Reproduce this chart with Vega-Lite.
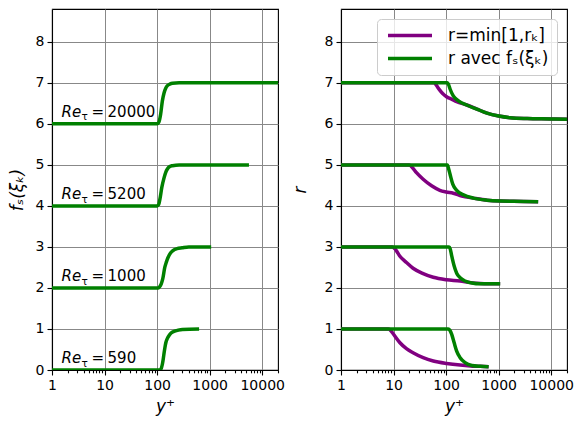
{
  "$schema": "https://vega.github.io/schema/vega-lite/v6.json",
  "background": "white",
  "padding": {"left": 7, "top": 8, "right": 2, "bottom": 4},
  "config": {
    "font": "DejaVu Sans",
    "view": {"stroke": "black", "strokeWidth": 1.1},
    "axis": {
      "domainColor": "black", "domainWidth": 1.1,
      "tickColor": "black", "tickWidth": 1.1,
      "labelColor": "black", "titleColor": "black",
      "labelFont": "DejaVu Sans", "titleFont": "DejaVu Sans",
      "labelFontSize": 14, "titleFontSize": 17, "titleFontWeight": "normal",
      "gridColor": "#888888", "gridWidth": 1
    }
  },
  "datasets": {
    "fs": [
      {"re": "590", "x": 1, "y": 0}, {"re": "590", "x": 112, "y": 0}, {"re": "590", "x": 118, "y": 0.02}, {"re": "590", "x": 126, "y": 0.14}, {"re": "590", "x": 131, "y": 0.27}, {"re": "590", "x": 136, "y": 0.42}, {"re": "590", "x": 141, "y": 0.55}, {"re": "590", "x": 147, "y": 0.67}, {"re": "590", "x": 157, "y": 0.77}, {"re": "590", "x": 169, "y": 0.84}, {"re": "590", "x": 185, "y": 0.9}, {"re": "590", "x": 210, "y": 0.94}, {"re": "590", "x": 250, "y": 0.97}, {"re": "590", "x": 303, "y": 0.99}, {"re": "590", "x": 630, "y": 1.0},
      {"re": "1000", "x": 1, "y": 2}, {"re": "1000", "x": 105, "y": 2}, {"re": "1000", "x": 112, "y": 2.03}, {"re": "1000", "x": 120, "y": 2.1}, {"re": "1000", "x": 128, "y": 2.22}, {"re": "1000", "x": 140, "y": 2.5}, {"re": "1000", "x": 150, "y": 2.63}, {"re": "1000", "x": 160, "y": 2.73}, {"re": "1000", "x": 180, "y": 2.85}, {"re": "1000", "x": 200, "y": 2.91}, {"re": "1000", "x": 240, "y": 2.96}, {"re": "1000", "x": 300, "y": 2.98}, {"re": "1000", "x": 400, "y": 3}, {"re": "1000", "x": 1070, "y": 3},
      {"re": "5200", "x": 1, "y": 4}, {"re": "5200", "x": 100, "y": 4}, {"re": "5200", "x": 107, "y": 4.03}, {"re": "5200", "x": 113, "y": 4.16}, {"re": "5200", "x": 123, "y": 4.45}, {"re": "5200", "x": 136, "y": 4.69}, {"re": "5200", "x": 146, "y": 4.82}, {"re": "5200", "x": 157, "y": 4.9}, {"re": "5200", "x": 175, "y": 4.96}, {"re": "5200", "x": 196, "y": 4.98}, {"re": "5200", "x": 263, "y": 5}, {"re": "5200", "x": 5600, "y": 5},
      {"re": "20000", "x": 1, "y": 6}, {"re": "20000", "x": 100, "y": 6}, {"re": "20000", "x": 108, "y": 6.04}, {"re": "20000", "x": 117, "y": 6.24}, {"re": "20000", "x": 126, "y": 6.56}, {"re": "20000", "x": 136, "y": 6.76}, {"re": "20000", "x": 146, "y": 6.87}, {"re": "20000", "x": 157, "y": 6.93}, {"re": "20000", "x": 175, "y": 6.97}, {"re": "20000", "x": 196, "y": 6.99}, {"re": "20000", "x": 263, "y": 7}, {"re": "20000", "x": 20000, "y": 7}
    ],
    "labels": [
      {"re": "20000", "x": 1.52, "y": 6.17},
      {"re": "5200", "x": 1.52, "y": 4.16},
      {"re": "1000", "x": 1.52, "y": 2.16},
      {"re": "590", "x": 1.52, "y": 0.16}
    ],
    "r": [
      {"re": "590", "serie": "r=min[1,rₖ]", "x": 1, "y": 1}, {"re": "590", "serie": "r=min[1,rₖ]", "x": 8, "y": 1}, {"re": "590", "serie": "r=min[1,rₖ]", "x": 9, "y": 0.95}, {"re": "590", "serie": "r=min[1,rₖ]", "x": 10, "y": 0.87}, {"re": "590", "serie": "r=min[1,rₖ]", "x": 13.1, "y": 0.67}, {"re": "590", "serie": "r=min[1,rₖ]", "x": 17.6, "y": 0.52}, {"re": "590", "serie": "r=min[1,rₖ]", "x": 23.5, "y": 0.42}, {"re": "590", "serie": "r=min[1,rₖ]", "x": 36.6, "y": 0.3}, {"re": "590", "serie": "r=min[1,rₖ]", "x": 57, "y": 0.22}, {"re": "590", "serie": "r=min[1,rₖ]", "x": 102, "y": 0.16}, {"re": "590", "serie": "r=min[1,rₖ]", "x": 185, "y": 0.12}, {"re": "590", "serie": "r=min[1,rₖ]", "x": 290, "y": 0.1}, {"re": "590", "serie": "r=min[1,rₖ]", "x": 450, "y": 0.09}, {"re": "590", "serie": "r=min[1,rₖ]", "x": 645, "y": 0.08},
      {"re": "1000", "serie": "r=min[1,rₖ]", "x": 1, "y": 3}, {"re": "1000", "serie": "r=min[1,rₖ]", "x": 9.5, "y": 3}, {"re": "1000", "serie": "r=min[1,rₖ]", "x": 11, "y": 2.93}, {"re": "1000", "serie": "r=min[1,rₖ]", "x": 13.1, "y": 2.78}, {"re": "1000", "serie": "r=min[1,rₖ]", "x": 17.6, "y": 2.62}, {"re": "1000", "serie": "r=min[1,rₖ]", "x": 23.5, "y": 2.48}, {"re": "1000", "serie": "r=min[1,rₖ]", "x": 36.6, "y": 2.35}, {"re": "1000", "serie": "r=min[1,rₖ]", "x": 57, "y": 2.26}, {"re": "1000", "serie": "r=min[1,rₖ]", "x": 102, "y": 2.2}, {"re": "1000", "serie": "r=min[1,rₖ]", "x": 185, "y": 2.17}, {"re": "1000", "serie": "r=min[1,rₖ]", "x": 290, "y": 2.13}, {"re": "1000", "serie": "r=min[1,rₖ]", "x": 450, "y": 2.11}, {"re": "1000", "serie": "r=min[1,rₖ]", "x": 1070, "y": 2.1},
      {"re": "5200", "serie": "r=min[1,rₖ]", "x": 1, "y": 5}, {"re": "5200", "serie": "r=min[1,rₖ]", "x": 20, "y": 5}, {"re": "5200", "serie": "r=min[1,rₖ]", "x": 23, "y": 4.93}, {"re": "5200", "serie": "r=min[1,rₖ]", "x": 27.3, "y": 4.81}, {"re": "5200", "serie": "r=min[1,rₖ]", "x": 36.6, "y": 4.65}, {"re": "5200", "serie": "r=min[1,rₖ]", "x": 53, "y": 4.49}, {"re": "5200", "serie": "r=min[1,rₖ]", "x": 76, "y": 4.38}, {"re": "5200", "serie": "r=min[1,rₖ]", "x": 100, "y": 4.34}, {"re": "5200", "serie": "r=min[1,rₖ]", "x": 137, "y": 4.31}, {"re": "5200", "serie": "r=min[1,rₖ]", "x": 199, "y": 4.24}, {"re": "5200", "serie": "r=min[1,rₖ]", "x": 331, "y": 4.19}, {"re": "5200", "serie": "r=min[1,rₖ]", "x": 600, "y": 4.14}, {"re": "5200", "serie": "r=min[1,rₖ]", "x": 1070, "y": 4.12}, {"re": "5200", "serie": "r=min[1,rₖ]", "x": 3000, "y": 4.11}, {"re": "5200", "serie": "r=min[1,rₖ]", "x": 5650, "y": 4.1},
      {"re": "20000", "serie": "r=min[1,rₖ]", "x": 1, "y": 7}, {"re": "20000", "serie": "r=min[1,rₖ]", "x": 59, "y": 7}, {"re": "20000", "serie": "r=min[1,rₖ]", "x": 71, "y": 6.87}, {"re": "20000", "serie": "r=min[1,rₖ]", "x": 86, "y": 6.74}, {"re": "20000", "serie": "r=min[1,rₖ]", "x": 102, "y": 6.66}, {"re": "20000", "serie": "r=min[1,rₖ]", "x": 128, "y": 6.6}, {"re": "20000", "serie": "r=min[1,rₖ]", "x": 159, "y": 6.54}, {"re": "20000", "serie": "r=min[1,rₖ]", "x": 247, "y": 6.46}, {"re": "20000", "serie": "r=min[1,rₖ]", "x": 385, "y": 6.36}, {"re": "20000", "serie": "r=min[1,rₖ]", "x": 600, "y": 6.26}, {"re": "20000", "serie": "r=min[1,rₖ]", "x": 1000, "y": 6.19}, {"re": "20000", "serie": "r=min[1,rₖ]", "x": 1670, "y": 6.15}, {"re": "20000", "serie": "r=min[1,rₖ]", "x": 3480, "y": 6.13}, {"re": "20000", "serie": "r=min[1,rₖ]", "x": 10000, "y": 6.12}, {"re": "20000", "serie": "r=min[1,rₖ]", "x": 20000, "y": 6.11},
      {"re": "590", "serie": "r avec fₛ(ξₖ)", "x": 1, "y": 1}, {"re": "590", "serie": "r avec fₛ(ξₖ)", "x": 110, "y": 1}, {"re": "590", "serie": "r avec fₛ(ξₖ)", "x": 118, "y": 0.97}, {"re": "590", "serie": "r avec fₛ(ξₖ)", "x": 128, "y": 0.87}, {"re": "590", "serie": "r avec fₛ(ξₖ)", "x": 142, "y": 0.67}, {"re": "590", "serie": "r avec fₛ(ξₖ)", "x": 159, "y": 0.46}, {"re": "590", "serie": "r avec fₛ(ξₖ)", "x": 185, "y": 0.3}, {"re": "590", "serie": "r avec fₛ(ξₖ)", "x": 230, "y": 0.18}, {"re": "590", "serie": "r avec fₛ(ξₖ)", "x": 310, "y": 0.11}, {"re": "590", "serie": "r avec fₛ(ξₖ)", "x": 447, "y": 0.09}, {"re": "590", "serie": "r avec fₛ(ξₖ)", "x": 645, "y": 0.08},
      {"re": "1000", "serie": "r avec fₛ(ξₖ)", "x": 1, "y": 3}, {"re": "1000", "serie": "r avec fₛ(ξₖ)", "x": 114, "y": 3}, {"re": "1000", "serie": "r avec fₛ(ξₖ)", "x": 120, "y": 2.95}, {"re": "1000", "serie": "r avec fₛ(ξₖ)", "x": 128, "y": 2.78}, {"re": "1000", "serie": "r avec fₛ(ξₖ)", "x": 142, "y": 2.54}, {"re": "1000", "serie": "r avec fₛ(ξₖ)", "x": 159, "y": 2.36}, {"re": "1000", "serie": "r avec fₛ(ξₖ)", "x": 185, "y": 2.25}, {"re": "1000", "serie": "r avec fₛ(ξₖ)", "x": 230, "y": 2.17}, {"re": "1000", "serie": "r avec fₛ(ξₖ)", "x": 310, "y": 2.12}, {"re": "1000", "serie": "r avec fₛ(ξₖ)", "x": 447, "y": 2.1}, {"re": "1000", "serie": "r avec fₛ(ξₖ)", "x": 1070, "y": 2.1},
      {"re": "5200", "serie": "r avec fₛ(ξₖ)", "x": 1, "y": 5}, {"re": "5200", "serie": "r avec fₛ(ξₖ)", "x": 106, "y": 5}, {"re": "5200", "serie": "r avec fₛ(ξₖ)", "x": 112, "y": 4.9}, {"re": "5200", "serie": "r avec fₛ(ξₖ)", "x": 119, "y": 4.77}, {"re": "5200", "serie": "r avec fₛ(ξₖ)", "x": 134, "y": 4.53}, {"re": "5200", "serie": "r avec fₛ(ξₖ)", "x": 159, "y": 4.38}, {"re": "5200", "serie": "r avec fₛ(ξₖ)", "x": 214, "y": 4.27}, {"re": "5200", "serie": "r avec fₛ(ξₖ)", "x": 331, "y": 4.19}, {"re": "5200", "serie": "r avec fₛ(ξₖ)", "x": 600, "y": 4.14}, {"re": "5200", "serie": "r avec fₛ(ξₖ)", "x": 1070, "y": 4.12}, {"re": "5200", "serie": "r avec fₛ(ξₖ)", "x": 3000, "y": 4.11}, {"re": "5200", "serie": "r avec fₛ(ξₖ)", "x": 5650, "y": 4.1},
      {"re": "20000", "serie": "r avec fₛ(ξₖ)", "x": 1, "y": 7}, {"re": "20000", "serie": "r avec fₛ(ξₖ)", "x": 106, "y": 7}, {"re": "20000", "serie": "r avec fₛ(ξₖ)", "x": 112, "y": 6.95}, {"re": "20000", "serie": "r avec fₛ(ξₖ)", "x": 119, "y": 6.85}, {"re": "20000", "serie": "r avec fₛ(ξₖ)", "x": 137, "y": 6.68}, {"re": "20000", "serie": "r avec fₛ(ξₖ)", "x": 172, "y": 6.56}, {"re": "20000", "serie": "r avec fₛ(ξₖ)", "x": 247, "y": 6.46}, {"re": "20000", "serie": "r avec fₛ(ξₖ)", "x": 385, "y": 6.36}, {"re": "20000", "serie": "r avec fₛ(ξₖ)", "x": 600, "y": 6.26}, {"re": "20000", "serie": "r avec fₛ(ξₖ)", "x": 1000, "y": 6.19}, {"re": "20000", "serie": "r avec fₛ(ξₖ)", "x": 1670, "y": 6.15}, {"re": "20000", "serie": "r avec fₛ(ξₖ)", "x": 3480, "y": 6.13}, {"re": "20000", "serie": "r avec fₛ(ξₖ)", "x": 10000, "y": 6.12}, {"re": "20000", "serie": "r avec fₛ(ξₖ)", "x": 20000, "y": 6.11}
    ]
  },
  "spacing": 63,
  "bounds": "flush",
  "resolve": {"scale": {"color": "independent"}, "legend": {"color": "independent"}},
  "hconcat": [
    {
      "width": 226,
      "height": 361,
      "encoding": {
        "x": {
          "field": "x", "type": "quantitative",
          "scale": {"type": "log", "domain": [1, 20000], "nice": false},
          "axis": {
            "title": "y⁺", "titleFontStyle": "italic", "titlePadding": 6,
            "values": [1,2,3,4,5,6,7,8,9,10,20,30,40,50,60,70,80,90,100,200,300,400,500,600,700,800,900,1000,2000,3000,4000,5000,6000,7000,8000,9000,10000,20000],
            "labelExpr": "indexof([1,10,100,1000,10000], datum.value) >= 0 ? format(datum.value, 'd') : ''",
            "tickSize": {"condition": {"test": "indexof([1,10,100,1000,10000], datum.value) >= 0", "value": 5}, "value": 2.8},
            "gridOpacity": {"condition": {"test": "indexof([1,10,100,1000,10000], datum.value) >= 0", "value": 1}, "value": 0},
            "labelFlush": false, "labelOverlap": false, "labelPadding": 3
          }
        },
        "y": {
          "field": "y", "type": "quantitative",
          "scale": {"domain": [0, 8.8], "nice": false, "zero": false},
          "axis": {"title": "fₛ(ξₖ)", "titleFontStyle": "italic", "titlePadding": 9, "values": [0,1,2,3,4,5,6,7,8], "tickSize": 5, "labelPadding": 3}
        }
      },
      "layer": [
        {
          "data": {"name": "fs"},
          "mark": {"type": "line", "color": "#008000", "strokeWidth": 3.5, "interpolate": "monotone", "clip": true},
          "encoding": {"detail": {"field": "re", "type": "nominal"}}
        },
        {
          "data": {"name": "labels"},
          "mark": {"type": "text", "align": "left", "baseline": "alphabetic", "fontSize": 15, "fontStyle": "italic", "text": "Re", "color": "black"}
        },
        {
          "data": {"name": "labels"},
          "mark": {"type": "text", "align": "left", "baseline": "alphabetic", "fontSize": 10.5, "text": "τ", "dx": 20, "dy": 3.5, "color": "black"}
        },
        {
          "data": {"name": "labels"},
          "mark": {"type": "text", "align": "left", "baseline": "alphabetic", "fontSize": 15, "text": "=", "dx": 30, "color": "black"}
        },
        {
          "data": {"name": "labels"},
          "mark": {"type": "text", "align": "left", "baseline": "alphabetic", "fontSize": 15, "dx": 46, "color": "black"},
          "encoding": {"text": {"field": "re", "type": "nominal"}}
        }
      ]
    },
    {
      "width": 226,
      "height": 361,
      "data": {"name": "r"},
      "encoding": {
        "x": {
          "field": "x", "type": "quantitative",
          "scale": {"type": "log", "domain": [1, 20000], "nice": false},
          "axis": {
            "title": "y⁺", "titleFontStyle": "italic", "titlePadding": 6,
            "values": [1,2,3,4,5,6,7,8,9,10,20,30,40,50,60,70,80,90,100,200,300,400,500,600,700,800,900,1000,2000,3000,4000,5000,6000,7000,8000,9000,10000,20000],
            "labelExpr": "indexof([1,10,100,1000,10000], datum.value) >= 0 ? format(datum.value, 'd') : ''",
            "tickSize": {"condition": {"test": "indexof([1,10,100,1000,10000], datum.value) >= 0", "value": 5}, "value": 2.8},
            "gridOpacity": {"condition": {"test": "indexof([1,10,100,1000,10000], datum.value) >= 0", "value": 1}, "value": 0},
            "labelFlush": false, "labelOverlap": false, "labelPadding": 3
          }
        },
        "y": {
          "field": "y", "type": "quantitative",
          "scale": {"domain": [0, 8.8], "nice": false, "zero": false},
          "axis": {"title": "r", "titleFontStyle": "italic", "titlePadding": 15, "values": [0,1,2,3,4,5,6,7,8], "tickSize": 5, "labelPadding": 3}
        },
        "color": {
          "field": "serie", "type": "nominal",
          "scale": {"domain": ["r=min[1,rₖ]", "r avec fₛ(ξₖ)"], "range": ["#800080", "#008000"]},
          "legend": {
            "orient": "top-right", "offset": 10, "title": null,
            "symbolType": "M-1,0H7", "symbolSize": 121, "symbolStrokeWidth": 3.5,
            "labelOffset": 46, "labelFontSize": 17, "labelFont": "DejaVu Sans", "labelColor": "black", "labelLimit": 400,
            "rowPadding": 5, "padding": 8,
            "fillColor": "rgba(255,255,255,0.8)", "strokeColor": "#cccccc", "cornerRadius": 4
          }
        },
        "detail": {"field": "re", "type": "nominal"}
      },
      "layer": [
        {
          "transform": [{"filter": "datum.serie == 'r=min[1,rₖ]'"}],
          "mark": {"type": "line", "strokeWidth": 3.5, "interpolate": "monotone", "clip": true}
        },
        {
          "transform": [{"filter": "datum.serie == 'r avec fₛ(ξₖ)'"}],
          "mark": {"type": "line", "strokeWidth": 3.5, "interpolate": "monotone", "clip": true}
        }
      ]
    }
  ]
}
